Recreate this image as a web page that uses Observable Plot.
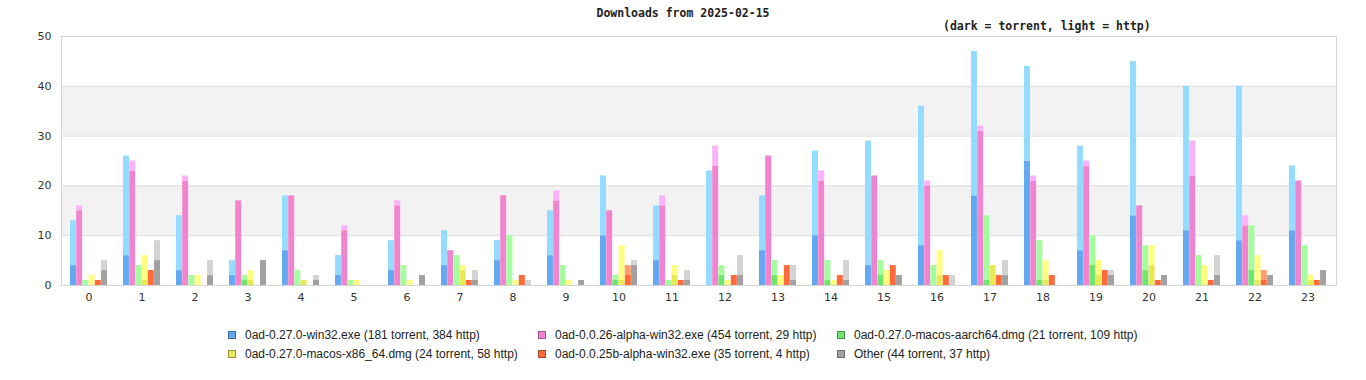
<!DOCTYPE html>
<html><head><meta charset="utf-8">
<script src="https://cdn.jsdelivr.net/npm/d3@7"></script>
<script src="https://cdn.jsdelivr.net/npm/@observablehq/plot@0.6"></script>
<style>
body{margin:0;background:#fff;width:1366px;height:380px;overflow:hidden;position:relative}
#title{position:absolute;top:6px;left:0;width:1366px;text-align:center;font:bold 11.5px "DejaVu Sans Mono",monospace;color:#222}
#sub{position:absolute;top:19px;left:943px;font:bold 11.5px "DejaVu Sans Mono",monospace;color:#222;white-space:nowrap}
#chart{position:absolute;top:0;left:0}
.leg{position:absolute;font:12px "Liberation Sans",sans-serif;color:#222;white-space:nowrap;line-height:14px}
.sw{position:absolute;left:-17px;top:3px;width:6px;height:6px;border:1px solid rgba(0,0,0,0.35)}
</style></head>
<body>
<div id="title">Downloads from 2025-02-15</div>
<div id="sub">(dark = torrent, light = http)</div>
<div id="chart"></div>
<div id="legend"></div>
<script>
const hours = [0,1,2,3,4,5,6,7,8,9,10,11,12,13,14,15,16,17,18,19,20,21,22,23];
const series = ["0ad-0.27.0-win32.exe","0ad-0.0.26-alpha-win32.exe","0ad-0.27.0-macos-aarch64.dmg","0ad-0.27.0-macos-x86_64.dmg","0ad-0.0.25b-alpha-win32.exe","Other"];
const win32Torrent   = [4,6,3,2,7,2,3,4,5,6,10,5,0,7,10,4,8,18,25,7,14,11,9,11];
const win32Http      = [9,20,11,3,11,4,6,7,4,9,12,11,23,11,17,25,28,29,19,21,31,29,31,13];
const a26Torrent     = [15,23,21,17,18,11,16,7,18,17,15,16,24,26,21,22,20,31,21,24,16,22,12,21];
const a26Http        = [1,2,1,0,0,1,1,0,0,2,0,2,4,0,2,0,1,1,1,1,0,7,2,0];
const aarchTorrent   = [0,0,0,1,0,0,0,0,0,0,1,0,2,2,1,2,0,1,1,4,3,0,3,0];
const aarchHttp      = [1,4,2,1,3,1,4,6,10,4,1,1,2,3,4,3,4,13,8,6,5,6,9,8];
const x86Torrent     = [0,1,0,1,1,0,0,3,0,0,1,2,0,0,0,0,2,4,1,2,4,0,1,1];
const x86Http        = [2,5,2,2,0,1,1,1,1,1,7,2,1,2,1,3,5,0,4,3,4,4,5,1];
const a25Torrent     = [1,3,0,0,0,0,0,1,2,0,2,1,2,4,2,4,2,2,2,3,1,1,1,1];
const a25Http        = [0,0,0,0,0,0,0,0,0,0,2,0,0,0,0,0,0,0,0,0,0,0,2,0];
const otherTorrent   = [3,5,2,5,1,0,2,1,0,1,4,1,2,1,1,2,0,2,0,2,2,2,2,3];
const otherHttp      = [2,4,3,0,1,0,0,2,1,0,1,2,4,3,4,0,2,3,0,1,0,4,0,0];
const yTicks = [0,10,20,30,40,50];

const torrent = [win32Torrent,a26Torrent,aarchTorrent,x86Torrent,a25Torrent,otherTorrent];
const http = [win32Http,a26Http,aarchHttp,x86Http,a25Http,otherHttp];
const darkColors  = ["#63a9f1","#f284cf","#6ee66e","#e9e957","#ff6a3c","#a1a1a1"];
const lightColors = ["#93dcff","#fcb2fa","#a2fe9e","#fffe80","#ff9c6e","#d3d3d3"];

const W = 1366, H = 310, mL = 61, mR = 30, mT = 36, mB = 25;
const padIn = 0.3, padOut = 0.13;
const step = (W - mL - mR) / (hours.length - padIn + 2 * padOut);
const bw = step * (1 - padIn);
const sub = bw / series.length;

const keys = series.flatMap(s=>[s+"|t", s+"|h"]);
const keyColors = series.flatMap((s,i)=>[darkColors[i], lightColors[i]]);
const bands = d3.pairs(yTicks).filter((_,i)=>i%2===1);

const barMarks = series.map((s,i)=>{
  const rows = [];
  hours.forEach((h,j)=>{
    rows.push({hour:h, key:s+"|t", value:torrent[i][j]});
    rows.push({hour:h, key:s+"|h", value:http[i][j]});
  });
  return Plot.barY(rows, {x:"hour", y:"value", fill:"key", insetLeft:i*sub, insetRight:(series.length-1-i)*sub});
});

const chart = Plot.plot({
  width:W, height:H,
  marginTop:mT, marginLeft:mL, marginRight:mR, marginBottom:mB,
  style:{fontFamily:"'DejaVu Sans',sans-serif", fontSize:"11px", color:"#333", background:"transparent"},
  x:{type:"band", domain:hours, paddingInner:padIn, paddingOuter:padOut, label:null, tickSize:0, tickPadding:8},
  y:{domain:[0,50], ticks:yTicks, label:null, tickSize:0, tickPadding:10},
  color:{domain:keys, range:keyColors},
  marks:[
    Plot.rectY(bands, {y1:d=>d[0], y2:d=>d[1], fill:"#f2f2f2"}),
    Plot.ruleY(yTicks, {stroke:"#dcdcdc"}),
    Plot.frame({stroke:"#d4d4d4"}),
    ...barMarks
  ]
});
document.getElementById("chart").appendChild(chart);

const legend = document.getElementById("legend");
const colX = [245, 555, 854], rowY = [328, 347];
series.forEach((s,i)=>{
  const t = d3.sum(torrent[i]), h = d3.sum(http[i]);
  const div = document.createElement("div");
  div.className = "leg";
  div.style.left = colX[i%3]+"px";
  div.style.top = rowY[Math.floor(i/3)]+"px";
  div.textContent = `${s} (${t} torrent, ${h} http)`;
  const sw = document.createElement("span");
  sw.className = "sw";
  sw.style.background = darkColors[i];
  div.appendChild(sw);
  legend.appendChild(div);
});
</script>
</body></html>
